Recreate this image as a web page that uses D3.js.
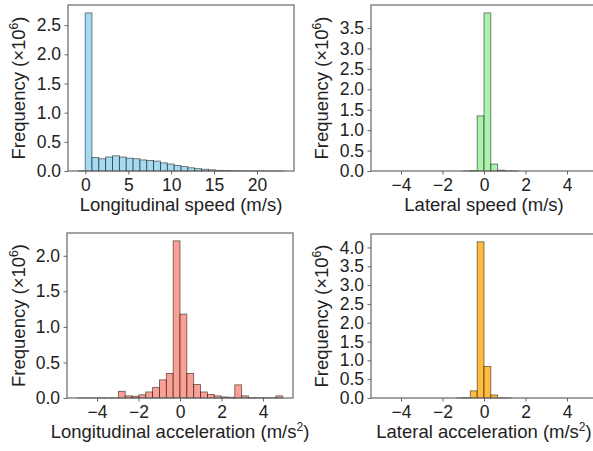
<!DOCTYPE html>
<html>
<head>
<meta charset="utf-8">
<script src="https://cdn.jsdelivr.net/npm/d3@7"></script>
<style>
  body { margin: 0; background: #fff; }
  svg text { font-family: "Liberation Sans", Arial, sans-serif; fill: #222; }
</style>
</head>
<body>
<svg id="chart" width="593" height="451"></svg>
<script>
// histogram counts (x10^6), 30 bins each
var lonSpeedRange = [-0.83, 23.12]
var lonSpeedCounts = [0.003, 2.71, 0.23, 0.21, 0.24, 0.26, 0.24, 0.22, 0.21, 0.19,
                      0.18, 0.17, 0.14, 0.12, 0.095, 0.075, 0.055, 0.04, 0.03, 0.02,
                      0.012, 0.008, 0.005, 0.003, 0.002, 0.001, 0.001, 0.0005, 0.0005, 0.0003]

var latSpeedRange = [-4.95, 4.95]
var latSpeedCounts = [0, 0, 0, 0, 0, 0, 0, 0, 0, 0,
                      0, 0, 0.001, 0.01, 1.35, 3.87, 0.17, 0.02, 0.005, 0.001,
                      0, 0, 0, 0, 0, 0, 0, 0, 0, 0]

var lonAccRange = [-4.95, 4.95]
var lonAccCounts = [0.001, 0.001, 0.001, 0.002, 0.002, 0.003, 0.095, 0.03, 0.025, 0.045,
                    0.085, 0.15, 0.255, 0.345, 2.21, 1.18, 0.345, 0.19, 0.085, 0.05,
                    0.03, 0.015, 0.01, 0.185, 0.03, 0.005, 0.003, 0.003, 0.003, 0.03]

var latAccRange = [-4.95, 4.95]
var latAccCounts = [0, 0, 0, 0, 0, 0, 0, 0, 0, 0,
                    0, 0.002, 0.01, 0.19, 4.15, 0.84, 0.08, 0.005, 0.001, 0,
                    0, 0, 0, 0, 0, 0, 0, 0, 0, 0]

var lonSpeedXTicks = [0, 5, 10, 15, 20]
var symXTicks = [-4, -2, 0, 2, 4]
var lonSpeedYTicks = [0, 0.5, 1.0, 1.5, 2.0, 2.5]
var latSpeedYTicks = [0, 0.5, 1.0, 1.5, 2.0, 2.5, 3.0, 3.5]
var lonAccYTicks = [0, 0.5, 1.0, 1.5, 2.0]
var latAccYTicks = [0, 0.5, 1.0, 1.5, 2.0, 2.5, 3.0, 3.5, 4.0]

var panels = [
    {range: lonSpeedRange, counts: lonSpeedCounts, xTicks: lonSpeedXTicks, yTicks: lonSpeedYTicks,
     color: "#87ceeb", label: "Longitudinal speed (m/s)", sup: null,
     left: 68, right: 294, top: 5, bottom: 171, ylabX: 25},
    {range: latSpeedRange, counts: latSpeedCounts, xTicks: symXTicks, yTicks: latSpeedYTicks,
     color: "#90ee90", label: "Lateral speed (m/s)", sup: null,
     left: 371, right: 597, top: 5, bottom: 171, ylabX: 328},
    {range: lonAccRange, counts: lonAccCounts, xTicks: symXTicks, yTicks: lonAccYTicks,
     color: "#fa8072", label: "Longitudinal acceleration (m/s", sup: "2",
     left: 67, right: 293, top: 233, bottom: 398, ylabX: 25},
    {range: latAccRange, counts: latAccCounts, xTicks: symXTicks, yTicks: latAccYTicks,
     color: "#ffa500", label: "Lateral acceleration (m/s", sup: "2",
     left: 371, right: 597, top: 234, bottom: 398, ylabX: 328}
]

var svg = d3.select("#chart")

function drawPanel(p)
{
    var n = p.counts.length
    var w = (p.range[1] - p.range[0]) / n
    var bins = p.counts.map(function(c, i){
        return {x0: p.range[0] + i * w, x1: p.range[0] + (i + 1) * w, c: c}
    })
    var span = p.range[1] - p.range[0]
    var xScale = d3.scaleLinear()
        .domain([p.range[0] - 0.05 * span, p.range[1] + 0.05 * span])
        .range([p.left, p.right])
    var yScale = d3.scaleLinear()
        .domain([0, d3.max(p.counts) * 1.05])
        .range([p.bottom, p.top])

    var g = svg.append("g")

    g.selectAll("rect.bar")
        .data(bins.filter(function(b){ return b.c > 0 }))
        .enter()
            .append("rect")
            .attr("class", "bar")
            .attr("x", function(d){ return xScale(d.x0) })
            .attr("width", function(d){ return xScale(d.x1) - xScale(d.x0) })
            .attr("y", function(d){ return yScale(d.c) })
            .attr("height", function(d){ return yScale(0) - yScale(d.c) })
            .attr("fill", p.color)
            .attr("fill-opacity", 0.75)
            .attr("stroke", "rgba(0,0,0,0.6)")
            .attr("stroke-width", 0.8)

    var fmtX = d3.format("d")
    var fmtY = d3.format(".1f")

    var xAxis = g.append("g")
        .attr("transform", "translate(0," + p.bottom + ")")
        .call(d3.axisBottom(xScale).tickValues(p.xTicks).tickFormat(fmtX).tickSize(3.5).tickPadding(4))
    var yAxis = g.append("g")
        .attr("transform", "translate(" + p.left + ",0)")
        .call(d3.axisLeft(yScale).tickValues(p.yTicks).tickFormat(fmtY).tickSize(3.5).tickPadding(3.5))

    ;[xAxis, yAxis].forEach(function(a){
        a.select(".domain").remove()
        a.selectAll("line").attr("stroke", "#666").attr("stroke-width", 1)
        a.selectAll("text")
            .style("font-family", "'Liberation Sans', Arial, sans-serif")
            .style("font-size", "17.5px")
            .attr("fill", "#222")
    })

    g.append("rect")
        .attr("x", p.left)
        .attr("y", p.top)
        .attr("width", p.right - p.left)
        .attr("height", p.bottom - p.top)
        .attr("fill", "none")
        .attr("stroke", "#666")
        .attr("stroke-width", 1.2)

    var xl = g.append("text")
        .attr("x", (p.left + p.right) / 2)
        .attr("y", p.bottom + 40)
        .attr("text-anchor", "middle")
        .style("font-size", "18.5px")
        .text(p.label)
    if(p.sup)
    {
        xl.append("tspan").attr("dy", -7).style("font-size", "12px").text(p.sup)
        xl.append("tspan").attr("dy", 7).text(")")
    }

    var yl = g.append("text")
        .attr("transform", "translate(" + p.ylabX + "," + ((p.top + p.bottom) / 2) + ") rotate(-90)")
        .attr("text-anchor", "middle")
        .style("font-size", "18.5px")
        .text("Frequency (×10")
    yl.append("tspan").attr("dy", -7).style("font-size", "12px").text("6")
    yl.append("tspan").attr("dy", 7).text(")")
}

panels.forEach(drawPanel)
</script>
</body>
</html>
